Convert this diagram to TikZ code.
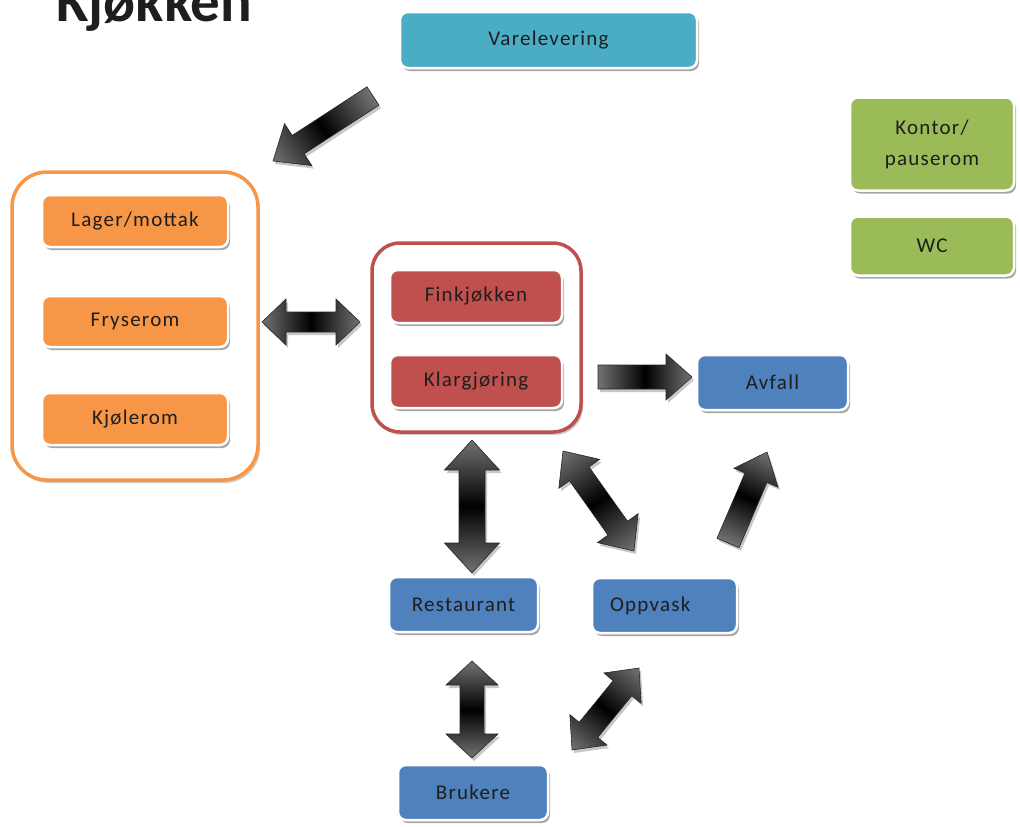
\documentclass[tikz,border=0pt]{standalone}
\usepackage{fontspec}
\setmainfont{Carlito}
\usetikzlibrary{shadows,calc}

\definecolor{aqua}{HTML}{4BACC6}
\definecolor{orng}{HTML}{F79646}
\definecolor{brick}{HTML}{C0504D}
\definecolor{steel}{HTML}{4F81BD}
\definecolor{olive}{HTML}{9BBB59}
\definecolor{ink}{HTML}{1E1E1E}

% outline of a block arrow, drawn along the local x axis
\newcommand\basinglepath{(0,-\bas) -- ({\balen-\bahl},-\bas) -- ({\balen-\bahl},-\bah) -- (\balen,0) -- ({\balen-\bahl},\bah) -- ({\balen-\bahl},\bas) -- (0,\bas) -- cycle}
\newcommand\badoublepath{(0,0) -- (\bahl,-\bah) -- (\bahl,-\bas) -- ({\balen-\bahl},-\bas) -- ({\balen-\bahl},-\bah) -- (\balen,0) -- ({\balen-\bahl},\bah) -- ({\balen-\bahl},\bas) -- (\bahl,\bas) -- (\bahl,\bah) -- cycle}

% \blockarrow{single|double}{from}{to}{shaft width}{head width}{head length}
\newcommand\blockarrow[6]{%
  \pgfpointanchor{#2}{center}\pgfgetlastxy\bax\bay
  \pgfpointanchor{#3}{center}\pgfgetlastxy\bbx\bby
  \pgfmathsetmacro\baang{atan2(\bby-\bay,\bbx-\bax)}%
  \pgfmathsetmacro\balen{veclen(\bbx-\bax,\bby-\bay)}%
  \pgfmathsetmacro\bas{#4/2}%
  \pgfmathsetmacro\bah{#5/2}%
  \def\bahl{#6}%
  \begin{scope}[transform canvas={shift={($(#2)+(2pt,-3pt)$)},rotate=\baang}]
    \fill[arrowshadow] \csname ba#1path\endcsname;
  \end{scope}
  \begin{scope}[transform canvas={shift={(#2)},rotate=\baang}]
    \shadedraw[arrowbody] \csname ba#1path\endcsname;
  \end{scope}}

\tikzset{
  label font/.style={font=\fontsize{21pt}{31pt}\selectfont\addfontfeatures{LetterSpace=6}},
  room/.style={rounded corners=8pt, draw=white, line width=2.5pt,
    text=ink, label font, align=center, inner sep=0pt,
    drop shadow={shadow xshift=2pt, shadow yshift=-3pt, opacity=.35, fill=black}},
  zone/.style={rounded corners=#1, line width=3.5pt, fill=white,
    drop shadow={shadow xshift=2pt, shadow yshift=-3pt, opacity=.2, fill=black}},
  arrowbody/.style={left color=black!55, right color=black!55, middle color=black,
    draw=black!85, line width=0.6pt, line join=miter},
  arrowshadow/.style={fill=black, opacity=.22},
}

\begin{document}
\begin{tikzpicture}[x=1pt, y=-1pt]
\useasboundingbox (0,0) rectangle (1020,827);

\node[anchor=base west, text=ink, font=\fontsize{59pt}{64pt}\selectfont\bfseries] (title) at (53,21) {Kjøkken};

% storage zone and its rooms
\node[zone=35pt, draw=orng, minimum width=246, minimum height=308] (store) at (135,326) {};
\node[room, fill=orng, minimum width=186, minimum height=52] (lager) at (135,221) {Lager/mottak};
\node[room, fill=orng, minimum width=186, minimum height=51] (frys) at (135,321.5) {Fryserom};
\node[room, fill=orng, minimum width=186, minimum height=52] (kjol) at (135,419) {Kjølerom};

% kitchen zone and its rooms
\node[zone=28pt, draw=brick, minimum width=209, minimum height=189] (kitchen) at (476.5,337.5) {};
\node[room, fill=brick, minimum width=172, minimum height=53] (fink) at (476,296.5) {Finkjøkken};
\node[room, fill=brick, minimum width=172, minimum height=53] (klar) at (476,381.5) {Klargjøring};

\node[room, fill=aqua, minimum width=297, minimum height=56] (vare) at (548.5,40) {Varelevering};
\node[room, fill=steel, minimum width=151, minimum height=55] (avfall) at (772.5,382.5) {Avfall};
\node[room, fill=steel, minimum width=149, minimum height=55] (rest) at (463.5,604.5) {Restaurant};
\node[room, fill=steel, minimum height=55, text width=109pt, inner xsep=18pt, align=left] (oppv) at (664.5,605.5) {Oppvask};
\node[room, fill=steel, minimum width=150, minimum height=55] (bruk) at (473,792.5) {Brukere};
\node[room, fill=olive, minimum width=164, minimum height=93] (kontor) at (932,144) {Kontor/\\pauserom};
\node[room, fill=olive, minimum width=164, minimum height=59] (wc) at (932,246) {WC};

% arrow end points
\coordinate (a1s) at (373,96);  \coordinate (a1e) at (273,161);
\coordinate (a2s) at (262,322); \coordinate (a2e) at (360,322);
\coordinate (a3s) at (598,377); \coordinate (a3e) at (692,377);
\coordinate (a4s) at (472,440); \coordinate (a4e) at (472,573);
\coordinate (a5s) at (563,451); \coordinate (a5e) at (634,551);
\coordinate (a6s) at (728,543); \coordinate (a6e) at (767,452);
\coordinate (a7s) at (472,661); \coordinate (a7e) at (472,758);
\coordinate (a8s) at (572,750); \coordinate (a8e) at (639,668);

\blockarrow{single}{a1s}{a1e}{22}{50}{30}
\blockarrow{double}{a2s}{a2e}{20}{46}{24}
\blockarrow{single}{a3s}{a3e}{24}{46}{26}
\blockarrow{double}{a4s}{a4e}{26}{55}{30}
\blockarrow{double}{a5s}{a5e}{24}{50}{28}
\blockarrow{single}{a6s}{a6e}{24}{48}{28}
\blockarrow{double}{a7s}{a7e}{24}{52}{24}
\blockarrow{double}{a8s}{a8e}{24}{48}{26}
\end{tikzpicture}
\end{document}
